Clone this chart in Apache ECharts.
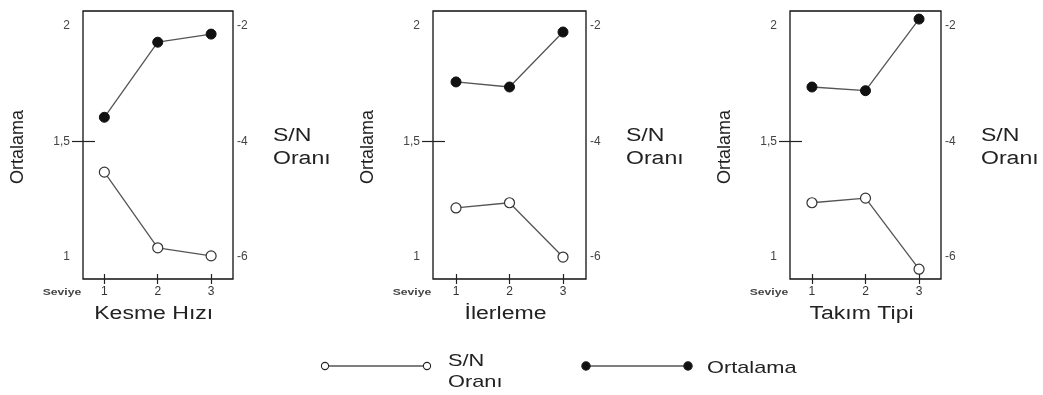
<!DOCTYPE html>
<html>
<head>
<meta charset="utf-8">
<script src="https://cdn.jsdelivr.net/npm/echarts@6/dist/echarts.min.js"></script>
<style>
  html, body { margin: 0; padding: 0; background: #fff; }
  #chart { width: 1043px; height: 395px; }
</style>
</head>
<body>
<div id="chart"></div>
<script>
// Factor levels and per-factor responses
const levels = [1, 2, 3];
const factorNames = ['Kesme Hızı', 'İlerleme', 'Takım Tipi'];

const ortalamaKesme = [1.605, 1.93, 1.965];
const snKesme = [-4.53, -5.84, -5.98];

const ortalamaIlerleme = [1.758, 1.736, 1.974];
const snIlerleme = [-5.15, -5.06, -6.0];

const ortalamaTakim = [1.736, 1.72, 2.03];
const snTakim = [-5.06, -4.98, -6.21];

// Tick labels
const ortalamaTicks = [1, 1.5, 2];
const snTicks = [-2, -4, -6];
const levelLabel = 'Seviye';
const leftAxisTitle = 'Ortalama';
const rightAxisTitle = 'S/N\nOranı';
const legendSn = 'S/N\nOranı';
const legendOrt = 'Ortalama';

const ortalamaSets = [ortalamaKesme, ortalamaIlerleme, ortalamaTakim];
const snSets = [snKesme, snIlerleme, snTakim];

// Layout of the three panels
const panels = [
  { left: 83, width: 150, xMin: 0.6, xMax: 3.41 },
  { left: 433, width: 153, xMin: 0.57, xMax: 3.43 },
  { left: 790, width: 151, xMin: 0.59, xMax: 3.41 }
];
const gridTop = 11, gridHeight = 268;
// Both vertical scales share the same span: S/N = 4 * Ortalama - 10
const ortMin = 0.905, ortMax = 2.065;
const snMin = 4 * ortMin - 10, snMax = 4 * ortMax - 10;

const FONT = '"Liberation Sans", Arial, sans-serif';
const TEXT = '#222';
const LINE = '#555';
const STRETCH = 1.28;

const grid = [], xAxis = [], yAxis = [], series = [], graphic = [];

panels.forEach((p, i) => {
  grid.push({
    left: p.left, top: gridTop, width: p.width, height: gridHeight,
    show: true, borderColor: '#111', borderWidth: 1.3, backgroundColor: 'transparent'
  });
  // level axis with labels and outward ticks
  xAxis.push({
    type: 'value', gridIndex: i, position: 'bottom', min: p.xMin, max: p.xMax,
    axisLine: { show: false }, splitLine: { show: false },
    axisTick: { show: true, length: 5, customValues: levels, lineStyle: { color: '#222', width: 1.2 } },
    axisLabel: { show: true, customValues: levels, margin: 7, fontSize: 12, color: '#333', fontFamily: FONT }
  });
  // same axis, inward half of the ticks
  xAxis.push({
    type: 'value', gridIndex: i, position: 'bottom', min: p.xMin, max: p.xMax,
    axisLine: { show: false }, splitLine: { show: false }, axisLabel: { show: false },
    axisTick: { show: true, inside: true, length: 5, customValues: levels, lineStyle: { color: '#222', width: 1.2 } }
  });
  // Ortalama scale
  yAxis.push({
    type: 'value', gridIndex: i, position: 'left', min: ortMin, max: ortMax,
    axisLine: { show: false }, splitLine: { show: false },
    axisTick: { show: true, length: 11, customValues: [1.5], lineStyle: { color: '#222', width: 1.2 } },
    axisLabel: {
      show: true, customValues: ortalamaTicks, margin: 13, fontSize: 12, color: '#444', fontFamily: FONT,
      formatter: v => String(v).replace('.', ',')
    }
  });
  yAxis.push({
    type: 'value', gridIndex: i, position: 'left', min: ortMin, max: ortMax,
    axisLine: { show: false }, splitLine: { show: false }, axisLabel: { show: false },
    axisTick: { show: true, inside: true, length: 12, customValues: [1.5], lineStyle: { color: '#222', width: 1.2 } }
  });
  // S/N scale
  yAxis.push({
    type: 'value', gridIndex: i, position: 'right', min: snMin, max: snMax,
    axisLine: { show: false }, splitLine: { show: false }, axisTick: { show: false },
    axisLabel: { show: true, customValues: snTicks, margin: 4, fontSize: 12, color: '#444', fontFamily: FONT }
  });

  series.push({
    name: legendOrt, type: 'line', xAxisIndex: i * 2, yAxisIndex: i * 3,
    data: levels.map((l, k) => [l, ortalamaSets[i][k]]),
    symbol: 'circle', symbolSize: 10,
    lineStyle: { color: LINE, width: 1.3 },
    itemStyle: { color: '#111', borderColor: '#111', borderWidth: 1 },
    z: 3
  });
  series.push({
    name: 'S/N Oranı', type: 'line', xAxisIndex: i * 2, yAxisIndex: i * 3 + 2,
    data: levels.map((l, k) => [l, snSets[i][k]]),
    symbol: 'circle', symbolSize: 10,
    lineStyle: { color: LINE, width: 1.3 },
    itemStyle: { color: '#fff', borderColor: '#333', borderWidth: 1.2 },
    z: 3
  });

  const right = p.left + p.width;
  const unit = p.width / (p.xMax - p.xMin);
  const midTickX = p.left + (2 - p.xMin) * unit;

  // axis titles and level caption
  graphic.push({
    type: 'text', x: p.left - 65, y: gridTop + gridHeight / 2 + 2, rotation: Math.PI / 2,
    style: { text: leftAxisTitle, font: '18px ' + FONT, fill: TEXT,
      align: 'center', verticalAlign: 'middle', textAlign: 'center', textVerticalAlign: 'middle' }
  });
  graphic.push({
    type: 'text', x: right + 40, y: gridTop + gridHeight / 2 + 3, scaleX: STRETCH,
    style: { text: rightAxisTitle, font: '18px ' + FONT, fill: TEXT, lineHeight: 23,
      align: 'left', verticalAlign: 'middle', textAlign: 'left', textVerticalAlign: 'middle' }
  });
  graphic.push({
    type: 'text', x: midTickX - 4, y: 314, scaleX: STRETCH,
    style: { text: factorNames[i], font: '18px ' + FONT, fill: TEXT,
      align: 'center', verticalAlign: 'middle', textAlign: 'center', textVerticalAlign: 'middle' }
  });
  graphic.push({
    type: 'text', x: p.left - 21, y: 293, scaleX: 1.35,
    style: { text: levelLabel, font: 'bold 9px ' + FONT, fill: '#444',
      align: 'center', verticalAlign: 'middle', textAlign: 'center', textVerticalAlign: 'middle' }
  });
});

// Legend key: a line with a marker at each end
function legendKey(x1, x2, y, filled) {
  const fill = filled ? '#111' : '#fff';
  return [
    { type: 'line', shape: { x1: x1, y1: y, x2: x2, y2: y }, style: { stroke: LINE, lineWidth: 1.3 } },
    { type: 'circle', shape: { cx: x1, cy: y, r: filled ? 4.2 : 3.6 }, style: { fill: fill, stroke: '#222', lineWidth: 1.1 }, z: 10 },
    { type: 'circle', shape: { cx: x2, cy: y, r: filled ? 4.2 : 3.6 }, style: { fill: fill, stroke: '#222', lineWidth: 1.1 }, z: 10 }
  ];
}
graphic.push(...legendKey(325, 427, 366, false));
graphic.push({
  type: 'text', x: 448, y: 372, scaleX: STRETCH,
  style: { text: legendSn, font: '17px ' + FONT, fill: TEXT, lineHeight: 21,
    align: 'left', verticalAlign: 'middle', textAlign: 'left', textVerticalAlign: 'middle' }
});
graphic.push(...legendKey(586, 688, 366, true));
graphic.push({
  type: 'text', x: 707, y: 368, scaleX: STRETCH,
  style: { text: legendOrt, font: '17px ' + FONT, fill: TEXT,
    align: 'left', verticalAlign: 'middle', textAlign: 'left', textVerticalAlign: 'middle' }
});

const chart = echarts.init(document.getElementById('chart'), null, { renderer: 'canvas' });
chart.setOption({
  animation: false,
  backgroundColor: '#fff',
  textStyle: { fontFamily: FONT },
  grid, xAxis, yAxis, series, graphic
});
</script>
</body>
</html>
